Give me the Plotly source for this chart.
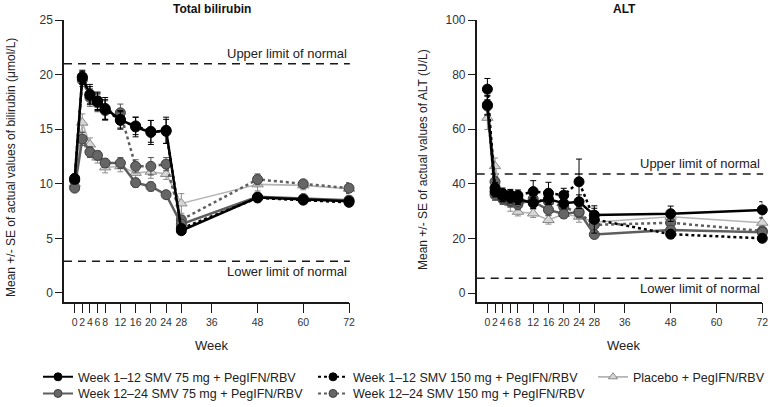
import plotly.graph_objects as go

W, H = 770, 407

# ---------------- data ----------------
weeks_bili = [0, 2, 4, 6, 8, 12, 16, 20, 24, 28, 48, 60, 72]
weeks_alt = [0, 2, 4, 6, 8, 12, 16, 20, 24, 28, 48, 72]
x_ticks = [0, 2, 4, 6, 8, 12, 16, 20, 24, 28, 36, 48, 60, 72]

series_names = [
    "Week 1–12 SMV 75 mg + PegIFN/RBV",
    "Week 12–24 SMV 75 mg + PegIFN/RBV",
    "Week 1–12 SMV 150 mg + PegIFN/RBV",
    "Week 12–24 SMV 150 mg + PegIFN/RBV",
    "Placebo + PegIFN/RBV",
]

# Total bilirubin (umol/L): mean and SE
bili_a = [10.4, 19.8, 18.2, 17.6, 16.9, 15.9, 15.2, 14.7, 14.9, 5.7, 8.75, 8.55, 8.4]
bili_a_se = [0.3, 0.6, 0.9, 0.8, 1.0, 0.8, 0.9, 1.1, 1.2, 0.3, 0.3, 0.3, 0.3]
bili_b = [9.6, 14.1, 12.9, 12.6, 11.9, 11.9, 10.1, 9.75, 9.0, 6.3, 8.8, 8.65, 8.5]
bili_b_se = [0.3, 0.6, 0.5, 0.4, 0.4, 0.5, 0.4, 0.4, 0.3, 0.3, 0.3, 0.3, 0.3]
bili_c = [10.5, 19.7, 18.1, 17.5, 16.8, 15.8, 15.3, 14.8, 14.8, 5.9, 8.7, 8.5, 8.3]
bili_c_se = [0.3, 0.6, 0.8, 0.8, 0.9, 0.8, 0.8, 1.0, 1.1, 0.3, 0.3, 0.3, 0.3]
bili_e = [10.3, 19.5, 17.9, 17.4, 16.7, 16.5, 11.6, 11.6, 11.8, 6.7, 10.4, 10.0, 9.6]
bili_e_se = [0.3, 0.6, 0.8, 0.8, 0.9, 0.8, 0.6, 0.8, 0.6, 0.4, 0.5, 0.3, 0.5]
bili_d = [10.0, 15.6, 13.6, 12.4, 11.5, 11.6, 11.0, 11.1, 10.9, 8.2, 9.95, 9.85, 9.55]
bili_d_se = [0.3, 0.8, 0.6, 0.5, 0.5, 0.5, 0.6, 0.6, 0.5, 0.9, 0.6, 0.4, 0.4]

# ALT (U/L): mean and SE
alt_a = [68.8, 37.2, 35.5, 35.0, 34.5, 33.0, 34.5, 32.9, 33.5, 28.6, 29.1, 30.5]
alt_a_se = [3.5, 2.0, 2.0, 2.0, 2.0, 2.0, 2.0, 2.0, 2.5, 2.5, 2.8, 3.0]
alt_b = [68.5, 40.8, 35.0, 34.0, 33.5, 33.5, 30.5, 29.0, 29.8, 21.5, 23.1, 22.3]
alt_b_se = [3.5, 2.0, 2.0, 2.0, 2.0, 2.0, 2.0, 1.5, 2.0, 1.5, 1.5, 1.5]
alt_c = [74.7, 38.5, 36.5, 36.0, 35.8, 37.2, 36.6, 35.9, 40.8, 27.0, 21.6, 20.1]
alt_c_se = [3.9, 2.0, 2.0, 2.0, 2.0, 4.0, 4.0, 2.5, 8.3, 5.0, 1.5, 1.5]
alt_e = [69.0, 36.0, 34.5, 33.5, 32.5, 34.5, 33.5, 31.5, 29.5, 25.0, 25.8, 22.8]
alt_e_se = [3.5, 2.0, 2.0, 2.0, 2.0, 2.0, 2.0, 2.0, 2.0, 2.0, 2.0, 1.5]
alt_d = [64.2, 46.5, 35.0, 33.0, 29.8, 29.2, 26.8, 29.0, 28.0, 26.0, 28.0, 25.8]
alt_d_se = [4.3, 3.0, 2.0, 3.0, 1.5, 1.5, 1.5, 1.5, 2.0, 2.0, 2.0, 2.0]

bili_uln, bili_lln = 21.0, 2.9
alt_uln, alt_lln = 43.6, 5.5

# ---------------- styles ----------------
styles = {
    "a": dict(line=dict(color="#000000", width=2.5, dash="solid"),
              marker=dict(symbol="circle", size=10, color="#000000",
                          line=dict(color="#000000", width=1)),
              err="#000000"),
    "b": dict(line=dict(color="#5e5e5e", width=2.5, dash="solid"),
              marker=dict(symbol="circle", size=10, color="#666666",
                          line=dict(color="#404040", width=1)),
              err="#555555"),
    "c": dict(line=dict(color="#000000", width=2.5, dash="dot"),
              marker=dict(symbol="circle", size=10, color="#000000",
                          line=dict(color="#000000", width=1)),
              err="#000000"),
    "e": dict(line=dict(color="#5e5e5e", width=2.5, dash="dot"),
              marker=dict(symbol="circle", size=10, color="#666666",
                          line=dict(color="#404040", width=1)),
              err="#555555"),
    "d": dict(line=dict(color="#b4b4b4", width=1.6, dash="solid"),
              marker=dict(symbol="triangle-up", size=10, color="#d6d6d6",
                          line=dict(color="#8a8a8a", width=1)),
              err="#8a8a8a"),
}

font_family = "Liberation Sans, Arial, sans-serif"
fig = go.Figure()

bili = {"a": (bili_a, bili_a_se), "b": (bili_b, bili_b_se), "c": (bili_c, bili_c_se),
        "e": (bili_e, bili_e_se), "d": (bili_d, bili_d_se)}
alt = {"a": (alt_a, alt_a_se), "b": (alt_b, alt_b_se), "c": (alt_c, alt_c_se),
       "e": (alt_e, alt_e_se), "d": (alt_d, alt_d_se)}
name_of = {"a": series_names[0], "b": series_names[1], "c": series_names[2],
           "e": series_names[3], "d": series_names[4]}

draw_order = ["d", "e", "b", "c", "a"]
for key in draw_order:
    st = styles[key]
    for (data, weeks, xa, ya) in [(bili, weeks_bili, "x", "y"),
                                  (alt, weeks_alt, "x2", "y2")]:
        vals, se = data[key]
        fig.add_trace(go.Scatter(
            x=weeks, y=vals, mode="lines+markers", name=name_of[key],
            line=st["line"], marker=st["marker"],
            error_y=dict(type="data", array=se, visible=True, color=st["err"],
                         thickness=1, width=3),
            xaxis=xa, yaxis=ya, cliponaxis=False, showlegend=False,
        ))

# legend-only entries (one legend per entry for exact placement)
legend_pos = {  # key: (legend id, text-left x px, row center y px)
    "a": ("legend", 78, 376.7),
    "b": ("legend2", 78, 393.3),
    "c": ("legend3", 353, 376.7),
    "e": ("legend4", 353, 393.3),
    "d": ("legend5", 633, 376.7),
}
leg_font = dict(size=12.5, color="#222222", family=font_family)
legend_layout = {}
for key in ["a", "b", "c", "e", "d"]:
    st = styles[key]
    lid, tx, ty = legend_pos[key]
    m = dict(st["marker"])
    m["size"] = 8
    ln = dict(st["line"])
    ln["width"] = min(ln["width"], 2)
    fig.add_trace(go.Scatter(x=[None], y=[None], mode="lines+markers", name=name_of[key],
                             line=ln, marker=m, xaxis="x", yaxis="y",
                             showlegend=True, legend=lid))
    legend_layout[lid] = dict(x=(tx - 40) / W, y=(H - (ty - 14.5)) / H, xanchor="left",
                              yanchor="top", orientation="v", itemwidth=30,
                              bgcolor="rgba(0,0,0,0)", font=leg_font)

# ---------------- axes ----------------
ydom = [(H - 301.7) / H, (H - 20) / H]
xdom1 = [64 / W, 349 / W]
xdom2 = [476.7 / W, 762.3 / W]
xfont = dict(size=10.5, color="#333333", family=font_family)
yfont = dict(size=12, color="#333333", family=font_family)
axis_common = dict(showline=True, linecolor="#1a1a1a", linewidth=1.5, ticks="outside",
                   tickcolor="#1a1a1a", tickwidth=1.2, showgrid=False, zeroline=False,
                   automargin=False)
fig.update_layout(
    xaxis=dict(domain=xdom1, range=[-2.8, 72], tickvals=x_ticks, ticklen=10, tickangle=0,
               tickfont=xfont, anchor="y", **axis_common),
    yaxis=dict(domain=ydom, range=[-0.8, 25], tickvals=[0, 5, 10, 15, 20, 25], ticklen=7,
               tickfont=yfont, anchor="x", **axis_common),
    xaxis2=dict(domain=xdom2, range=[-2.8, 72], tickvals=x_ticks, ticklen=10, tickangle=0,
                tickfont=xfont, anchor="y2", **axis_common),
    yaxis2=dict(domain=ydom, range=[-3.1, 100], tickvals=[0, 20, 40, 60, 80, 100], ticklen=7,
                tickfont=yfont, anchor="x2", **axis_common),
)

# ---------------- reference lines ----------------
for (xr, yr, val) in [("x", "y", bili_uln), ("x", "y", bili_lln),
                      ("x2", "y2", alt_uln), ("x2", "y2", alt_lln)]:
    fig.add_shape(type="line", xref=f"{xr} domain", yref=yr, x0=0, x1=1.003, y0=val, y1=val,
                  line=dict(color="#1a1a1a", width=1.5, dash="8px,6px"), layer="below")

txt = dict(size=13, color="#222222", family=font_family)
annos = [
    dict(text="Upper limit of normal", xref="x domain", yref="y", x=1, y=bili_uln,
         xanchor="right", yanchor="bottom", yshift=1),
    dict(text="Lower limit of normal", xref="x domain", yref="y", x=1, y=bili_lln,
         xanchor="right", yanchor="top", yshift=-1),
    dict(text="Upper limit of normal", xref="x2 domain", yref="y2", x=1, y=alt_uln,
         xanchor="right", yanchor="bottom", yshift=1),
    dict(text="Lower limit of normal", xref="x2 domain", yref="y2", x=1, y=alt_lln,
         xanchor="right", yanchor="top", yshift=-1),
    dict(text="<b>Total bilirubin</b>", xref="paper", yref="paper", x=212 / W, y=(H - 9) / H,
         xanchor="center", yanchor="middle", font=dict(size=12, color="#111111", family=font_family)),
    dict(text="<b>ALT</b>", xref="paper", yref="paper", x=624 / W, y=(H - 9) / H,
         xanchor="center", yanchor="middle", font=dict(size=12, color="#111111", family=font_family)),
    dict(text="Week", xref="paper", yref="paper", x=212 / W, y=(H - 345) / H,
         xanchor="center", yanchor="middle"),
    dict(text="Week", xref="paper", yref="paper", x=623 / W, y=(H - 345) / H,
         xanchor="center", yanchor="middle"),
    dict(text="Mean +/- SE of actual values of bilirubin (μmol/L)", xref="paper", yref="paper",
         x=11 / W, y=(H - 168) / H, xanchor="center", yanchor="middle", textangle=-90,
         font=dict(size=12, color="#222222", family=font_family)),
    dict(text="Mean +/- SE of actual values of ALT (U/L)", xref="paper", yref="paper",
         x=423 / W, y=(H - 160) / H, xanchor="center", yanchor="middle", textangle=-90,
         font=dict(size=12, color="#222222", family=font_family)),
]
for a in annos:
    a.setdefault("font", txt)
    fig.add_annotation(showarrow=False, **a)

fig.update_layout(
    width=W, height=H,
    margin=dict(l=0, r=0, t=0, b=0, autoexpand=False),
    paper_bgcolor="white", plot_bgcolor="white",
    font=dict(family=font_family, color="#222222"),
    **legend_layout,
)

fig.write_html("out.html", config={"displayModeBar": False},
               post_script="document.body.style.margin='0px';document.body.style.overflow='hidden';")
